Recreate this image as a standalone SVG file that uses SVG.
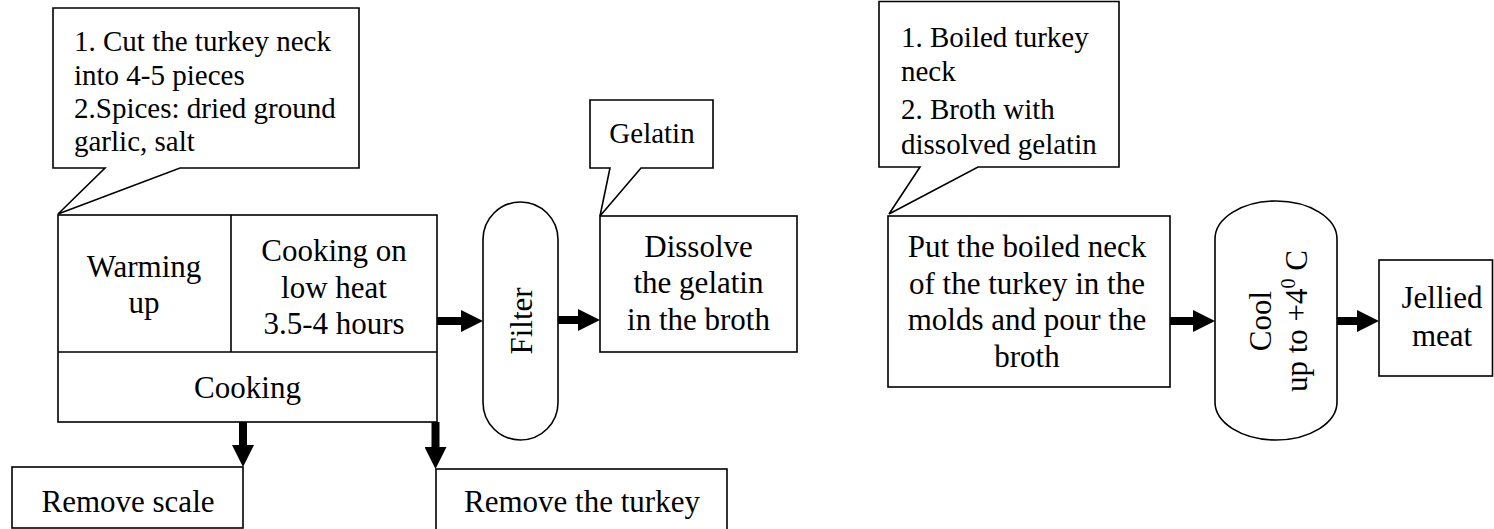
<svg xmlns="http://www.w3.org/2000/svg" width="1494" height="529" viewBox="0 0 1494 529">
<defs>
<style>
.box{fill:#fff;stroke:#000;stroke-width:1.6}
.ln{fill:none;stroke:#000;stroke-width:1.6}
.t{font-family:"Liberation Serif","Times New Roman",serif;font-size:31px;fill:#000}
.c{text-anchor:middle}
.s{font-family:"Liberation Serif","Times New Roman",serif;font-size:29px;fill:#000}
.arr{fill:none;stroke:#000;stroke-width:8}
</style>
<marker id="ah" markerUnits="userSpaceOnUse" markerWidth="22" markerHeight="22" refX="0" refY="11" orient="auto">
<path d="M0,0 L22,11 L0,22 Z" fill="#000"/>
</marker>
</defs>
<rect width="1494" height="529" fill="#fff"/>

<g id="callout1">
<path class="box" d="M53,8 H359 V168 H180 L58,214 L105,168 H53 Z"/>
<text class="s" x="74" y="51">1. Cut the turkey neck</text>
<text class="s" x="74" y="85">into 4-5 pieces</text>
<text class="s" x="74" y="118">2.Spices: dried ground</text>
<text class="s" x="74" y="151">garlic, salt</text>
</g>

<g id="cooking">
<rect class="box" x="58" y="215" width="379" height="207"/>
<path class="ln" d="M58,352 H437 M231,215 V352"/>
<text class="t c" x="144" y="277">Warming</text>
<text class="t c" x="144" y="313">up</text>
<text class="t c" x="334" y="261">Cooking on</text>
<text class="t c" x="334" y="298">low heat</text>
<text class="t c" x="334" y="334">3.5-4 hours</text>
<text class="t c" x="247.5" y="398">Cooking</text>
</g>

<g id="filter">
<rect class="box" x="483" y="202" width="75" height="238" rx="37.5" ry="37.5"/>
<text class="t c" transform="translate(520.5,321) rotate(-90)" x="0" y="11">Filter</text>
</g>

<g id="gelatin">
<path class="box" d="M590,100 H713 V168 H641 L600,216 L610,168 H590 Z"/>
<text class="s c" x="652" y="143">Gelatin</text>
</g>

<g id="dissolve">
<rect class="box" x="600" y="216" width="197" height="136"/>
<text class="t c" x="698.5" y="257">Dissolve</text>
<text class="t c" x="698.5" y="293">the gelatin</text>
<text class="t c" x="698.5" y="330">in the broth</text>
</g>

<g id="removescale">
<rect class="box" x="12" y="467" width="231" height="61"/>
<text class="t c" x="128" y="512">Remove scale</text>
</g>

<g id="removeturkey">
<rect class="box" x="436" y="469" width="291" height="70"/>
<text class="t c" x="582" y="512">Remove the turkey</text>
</g>

<g id="callout2">
<path class="box" d="M879,1.5 H1119 V167 H978 L889,214 L920,167 H879 Z"/>
<text class="s" x="901" y="47">1. Boiled turkey</text>
<text class="s" x="901" y="81">neck</text>
<text class="s" x="901" y="119">2. Broth with</text>
<text class="s" x="901" y="154">dissolved gelatin</text>
</g>

<g id="put">
<rect class="box" x="888" y="216" width="282" height="171"/>
<text class="t c" x="1027" y="257">Put the boiled neck</text>
<text class="t c" x="1027" y="294">of the turkey in the</text>
<text class="t c" x="1027" y="330">molds and pour the</text>
<text class="t c" x="1027" y="367">broth</text>
</g>

<g id="cool">
<rect class="box" x="1215" y="201" width="122" height="239" rx="61" ry="38"/>
<g transform="translate(1276,321) rotate(-90)">
<text class="t c" x="0" y="-5">Cool</text>
<text class="t c" x="0" y="31">up to +4<tspan font-size="20" dy="-12">0</tspan><tspan dy="12"> C</tspan></text>
</g>
</g>

<g id="jellied">
<rect class="box" x="1379" y="260" width="113.5" height="116"/>
<text class="t c" x="1442" y="308">Jellied</text>
<text class="t c" x="1442" y="346">meat</text>
</g>

<g id="connectors">
<path class="arr" d="M437,321 H461" marker-end="url(#ah)"/>
<path class="arr" d="M558,320 H578" marker-end="url(#ah)"/>
<path class="arr" d="M243,422 V445" marker-end="url(#ah)"/>
<path class="arr" d="M435.5,422 V447" marker-end="url(#ah)"/>
<path class="arr" d="M1170,321 H1193" marker-end="url(#ah)"/>
<path class="arr" d="M1337,321 H1357" marker-end="url(#ah)"/>
</g>
</svg>
